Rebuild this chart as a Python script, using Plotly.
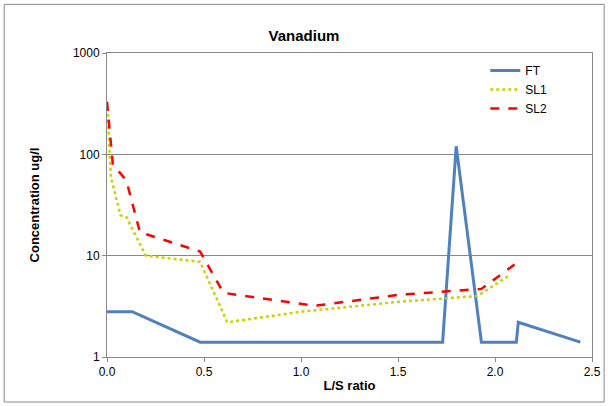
import plotly.graph_objects as go

ft_x = [0.0, 0.13, 0.48, 1.73, 1.80, 1.93, 2.11, 2.12, 2.44]
ft_y = [2.8, 2.8, 1.4, 1.4, 120, 1.4, 1.4, 2.2, 1.4]
sl1_x = [0.0, 0.02, 0.07, 0.10, 0.20, 0.48, 0.62, 1.0, 1.5, 1.91, 2.08]
sl1_y = [330, 60, 25, 24, 10, 8.7, 2.2, 2.8, 3.5, 4.0, 6.5]
sl2_x = [0.0, 0.03, 0.10, 0.17, 0.48, 0.60, 1.07, 1.5, 1.93, 2.13]
sl2_y = [330, 80, 55, 17, 11, 4.3, 3.2, 4.1, 4.7, 9.0]

fig = go.Figure()
fig.add_trace(go.Scatter(x=ft_x, y=ft_y, mode="lines", name="FT",
                         line=dict(color="#4F81BD", width=3)))
fig.add_trace(go.Scatter(x=sl1_x, y=sl1_y, mode="lines", name="SL1",
                         line=dict(color="#C8D400", width=2.5, dash="dot")))
fig.add_trace(go.Scatter(x=sl2_x, y=sl2_y, mode="lines", name="SL2",
                         line=dict(color="#FF0000", width=2.5, dash="dash")))

fig.update_layout(
    width=608, height=406, paper_bgcolor="white", plot_bgcolor="white",
    margin=dict(l=107, r=16, t=53, b=49, autoexpand=False),
    font=dict(family="Liberation Sans, Arial", size=12, color="black"),
    title=dict(text="<b>Vanadium</b>", x=0.5, xanchor="center", y=0.925, font=dict(size=15)),
    legend=dict(x=0.78, y=0.99, bgcolor="rgba(0,0,0,0)", font=dict(size=12)),
    xaxis=dict(range=[0, 2.5], dtick=0.5, tickformat=".1f", showgrid=False, automargin=False,
               showline=True, linecolor="#888", mirror=True, ticks="outside",
               tickcolor="#888", ticklen=4,
               title=dict(text="<b>L/S ratio</b>", standoff=2, font=dict(size=13))),
    yaxis=dict(type="log", range=[0, 3], tickvals=[1, 10, 100, 1000], automargin=False,
               ticktext=["1", "10", "100", "1000"], showgrid=True, gridcolor="#888",
               showline=True, linecolor="#888", mirror=True, ticks="outside",
               tickcolor="#888", ticklen=4,
               title=dict(text="<b>Concentration ug/l</b>", standoff=30, font=dict(size=13))),
    shapes=[dict(type="rect", xref="paper", yref="paper", x0=-0.212, y0=-0.148, x1=1.025, y1=1.16,
                 line=dict(color="#888", width=1), layer="above")],
    showlegend=True,
)
fig.write_html("out.html", config={"displayModeBar": False},
               post_script="document.body.style.margin='0';document.body.style.overflow='hidden';")
